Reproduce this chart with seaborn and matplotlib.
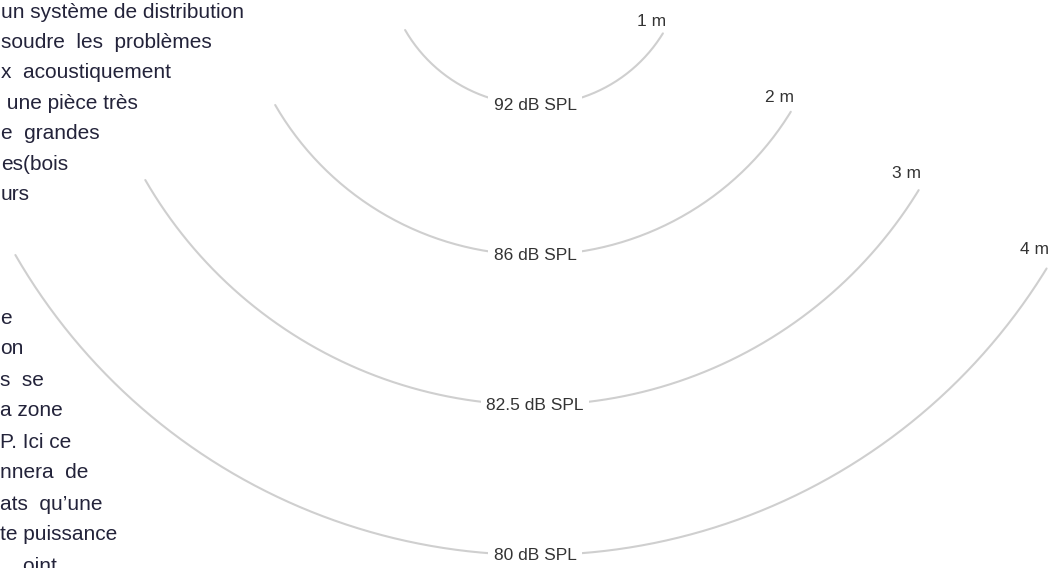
import numpy as np
import pandas as pd
import matplotlib
matplotlib.use("Agg")
import matplotlib.pyplot as plt
import seaborn as sns

# distances from the source and sound pressure level at each
distances = [1, 2, 3, 4]
dist_labels = ["1 m", "2 m", "3 m", "4 m"]
spl_labels = ["92 dB SPL", "86 dB SPL", "82.5 dB SPL", "80 dB SPL"]

# visible (cropped) lines of the text column on the left
para1 = ["un système de distribution",
         "soudre  les  problèmes",
         "x  acoustiquement",
         " une pièce très",
         "e  grandes",
         "es(bois",
         "urs"]
para2 = ["e",
         "on",
         "s  se",
         "a zone",
         "P. Ici ce",
         "nnera  de",
         "ats  qu’une",
         "te puissance",
         "    oint"]

W, H = 1048, 568
CX, CY = 535, -45      # source position in pixels (above the picture)
PX_PER_M = 150
LEFT_ANGLE, RIGHT_ANGLE = -60, 58.5


def main():
    sns.set_theme(style="white")
    plt.rcParams["font.family"] = ["Liberation Sans", "DejaVu Sans"]

    fig = plt.figure(figsize=(W / 100, H / 100), dpi=100)
    ax = fig.add_axes([0, 0, 1, 1])
    ax.set_xlim((0 - CX) / PX_PER_M, (W - CX) / PX_PER_M)
    ax.set_ylim(-(H - CY) / PX_PER_M, -(0 - CY) / PX_PER_M)
    ax.axis("off")

    t = np.radians(np.linspace(LEFT_ANGLE, RIGHT_ANGLE, 200))
    rows = []
    for d in distances:
        for i, a in enumerate(t):
            rows.append({"dist": d, "i": i, "x": d * np.sin(a), "y": -d * np.cos(a)})
    df = pd.DataFrame(rows)
    sns.lineplot(data=df, x="x", y="y", units="dist", estimator=None, sort=False,
                 color="#cfcfcf", linewidth=1.5, ax=ax, legend=False)

    a = np.radians(RIGHT_ANGLE)
    for d, dl, sl in zip(distances, dist_labels, spl_labels):
        ax.text(0, -d, sl, ha="center", va="center", fontsize=12.5, color="#333333",
                bbox=dict(boxstyle="square,pad=0.3", fc="white", ec="none"), zorder=5)
        ax.annotate(dl, xy=(d * np.sin(a), -d * np.cos(a)), xytext=(2, 1.5 + 1.7 * d),
                    textcoords="offset points", ha="right", va="bottom",
                    fontsize=12.5, color="#333333")

    body = dict(fontsize=15, color="#23233a", va="center", ha="left")
    for k, line in enumerate(para1):
        fig.text(1 / W, 1 - (12 + 30.4 * k) / H, line, **body)
    for k, line in enumerate(para2):
        fig.text(0, 1 - (318 + 31 * k) / H, line, **body)

    fig.savefig("out.png", dpi=100)


if __name__ == "__main__":
    main()
